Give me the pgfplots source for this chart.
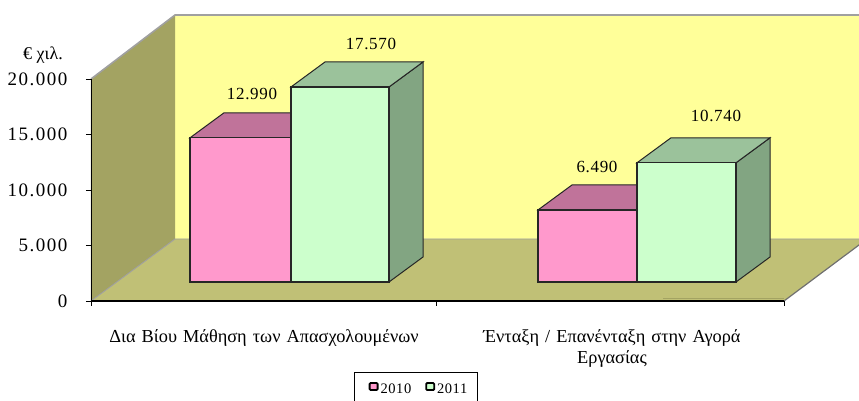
\documentclass[border=0pt]{standalone}
\usepackage{pgfplots}
\pgfplotsset{compat=1.18}
\usepackage{fontspec}
\setmainfont{Liberation Serif}
\newfontfamily\spaced[LetterSpace=8]{Liberation Serif}
\newfontfamily\spacedb[LetterSpace=4]{Liberation Serif}
\definecolor{wallc}{HTML}{A3A362}
\definecolor{floorc}{HTML}{C0C076}
\definecolor{backc}{HTML}{FFFF99}
\definecolor{pinkf}{HTML}{FF99CC}
\definecolor{pinkt}{HTML}{C0739A}
\definecolor{greenf}{HTML}{CCFFCC}
\definecolor{greent}{HTML}{9BC29B}
\definecolor{greens}{HTML}{82A582}
\definecolor{edgec}{HTML}{262626}
\definecolor{wedge}{HTML}{A0A0A0}
\begin{document}
\begin{tikzpicture}
% canvas: 859 x 401 px; the axis box starts 91 px from the left, 100 px from the bottom
\path[use as bounding box, clip] (-91pt,-100pt) rectangle (768pt,301pt);
\begin{axis}[
  scale only axis, width=693pt, height=222pt,
  xmin=91, xmax=784, ymin=0, ymax=20000,
  clip=false, axis on top,
  axis x line=bottom, axis y line=left,
  axis line style={-, black},
  x axis line style={line width=1.4pt},
  y axis line style={line width=0.9pt},
  xtick={264,612}, minor xtick={91,436,784},
  xticklabels={{Δια Βίου Μάθηση των Απασχολουμένων},{Ένταξη / Επανένταξη στην Αγορά\\Εργασίας}},
  major x tick style={draw=none},
  minor tick length=5pt,
  minor tick style={black, line width=0.9pt},
  x tick label style={font=\fontsize{18.3}{21}\selectfont, text width=340pt, align=center, yshift=-20pt},
  ytick={0,5000,10000,15000,20000},
  scaled y ticks=false,
  major y tick style={black, line width=0.9pt},
  major tick length=5pt,
  tick align=outside,
  y tick label style={font=\spaced\fontsize{19}{20}\selectfont, xshift=-15pt},
  /pgf/number format/.cd, assume math mode=true, 1000 sep={.}, min exponent for 1000 sep=0,
  /pgfplots/.cd,
  legend columns=2,
  legend style={at={(0.469,-0.32)}, anchor=north, draw=black, line width=0.9pt,
    font=\spacedb\fontsize{14.5}{15}\selectfont, inner xsep=14pt, inner ysep=9pt,
    /tikz/every even column/.append style={column sep=12pt}},
  legend cell align=left,
]
% walls and floor
\addplot[forget plot, fill=backc, draw=none] coordinates {(175,5586)(175,25766)(880,25766)(880,5586)} -- cycle;
\addplot[forget plot, fill=floorc, draw=none] coordinates {(91,0)(784,0)(867,5586)(175,5586)} -- cycle;
\addplot[forget plot, fill=wallc, draw=none] coordinates {(91,0)(91,20000)(175,25766)(175,5586)} -- cycle;
\addplot[forget plot, draw=wedge, line width=1.6pt] coordinates {(91,20000)(175,25766)(880,25766)};
\addplot[forget plot, draw=wedge, line width=0.9pt] coordinates {(91,0)(175,5586)(880,5586)};
\addplot[forget plot, draw=wedge!70!black, line width=1.2pt] coordinates {(784,0)(867,5586)};
\addplot[forget plot, draw=wallc, line width=1.4pt] coordinates {(663,200)(784,200)};
% bars stand 19 px above the axis line
\begin{scope}[yshift=9.5pt]
% 2010, first group
\addplot[forget plot, fill=pinkt, draw=edgec, line width=1pt] coordinates {(190,12990)(291,12990)(325,15242)(224,15242)} -- cycle;
\addplot[forget plot, fill=pinkf, draw=edgec, line width=1.2pt] coordinates {(190,0)(190,12990)(291,12990)(291,0)} -- cycle;
% 2011, first group
\addplot[forget plot, fill=greens, draw=edgec, line width=1pt] coordinates {(389,0)(389,17570)(423,19822)(423,2252)} -- cycle;
\addplot[forget plot, fill=greent, draw=edgec, line width=1pt] coordinates {(291,17570)(389,17570)(423,19822)(325,19822)} -- cycle;
\addplot[forget plot, fill=greenf, draw=edgec, line width=1.2pt] coordinates {(291,0)(291,17570)(389,17570)(389,0)} -- cycle;
% 2010, second group
\addplot[forget plot, fill=pinkt, draw=edgec, line width=1pt] coordinates {(538,6490)(637,6490)(671,8742)(572,8742)} -- cycle;
\addplot[forget plot, fill=pinkf, draw=edgec, line width=1.2pt] coordinates {(538,0)(538,6490)(637,6490)(637,0)} -- cycle;
% 2011, second group
\addplot[forget plot, fill=greens, draw=edgec, line width=1pt] coordinates {(736,0)(736,10740)(770,12992)(770,2252)} -- cycle;
\addplot[forget plot, fill=greent, draw=edgec, line width=1pt] coordinates {(637,10740)(736,10740)(770,12992)(671,12992)} -- cycle;
\addplot[forget plot, fill=greenf, draw=edgec, line width=1.2pt] coordinates {(637,0)(637,10740)(736,10740)(736,0)} -- cycle;
\end{scope}
% data labels and unit
\node[font=\spacedb\fontsize{17}{18}\selectfont] at (axis cs:252,18649) {12.990};
\node[font=\spacedb\fontsize{17}{18}\selectfont] at (axis cs:371,23153) {17.570};
\node[font=\spacedb\fontsize{17}{18}\selectfont] at (axis cs:597,12072) {6.490};
\node[font=\spacedb\fontsize{17}{18}\selectfont] at (axis cs:716,16667) {10.740};
\node[font=\fontsize{18}{20}\selectfont] at (axis cs:43,22162) {€ χιλ.};
% legend
\addlegendimage{area legend, legend image code/.code={\draw[black, line width=1.8pt, rounded corners=1pt, fill=pinkf] (0pt,-1pt) rectangle (8pt,6pt);}}
\addlegendentry{2010}
\addlegendimage{area legend, legend image code/.code={\draw[black, line width=1.8pt, rounded corners=1pt, fill=greenf] (0pt,-1pt) rectangle (8pt,6pt);}}
\addlegendentry{2011\hspace*{-6pt}}
\end{axis}
\end{tikzpicture}
\end{document}
